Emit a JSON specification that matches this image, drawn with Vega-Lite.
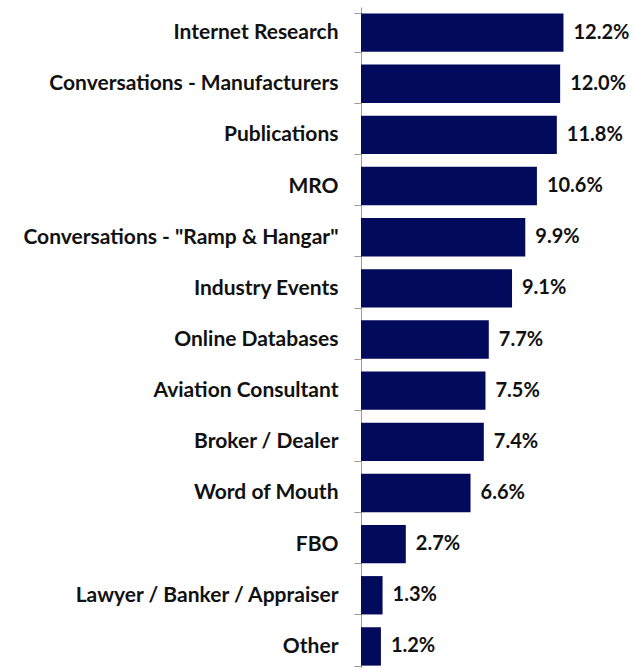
{
  "$schema": "https://vega.github.io/schema/vega-lite/v6.json",
  "width": 273,
  "height": 665,
  "autosize": {"type": "none"},
  "padding": {"left": 361, "top": 7, "right": 0, "bottom": 0},
  "background": "white",
  "config": {"view": {"stroke": null}},
  "data": {
    "values": [
      {"source": "Internet Research", "pct": 0.122},
      {"source": "Conversations - Manufacturers", "pct": 0.120},
      {"source": "Publications", "pct": 0.118},
      {"source": "MRO", "pct": 0.106},
      {"source": "Conversations - \"Ramp & Hangar\"", "pct": 0.099},
      {"source": "Industry Events", "pct": 0.091},
      {"source": "Online Databases", "pct": 0.077},
      {"source": "Aviation Consultant", "pct": 0.075},
      {"source": "Broker / Dealer", "pct": 0.074},
      {"source": "Word of Mouth", "pct": 0.066},
      {"source": "FBO", "pct": 0.027},
      {"source": "Lawyer / Banker / Appraiser", "pct": 0.013},
      {"source": "Other", "pct": 0.012}
    ]
  },
  "encoding": {
    "y": {
      "field": "source",
      "type": "nominal",
      "sort": null,
      "scale": {"paddingInner": 0.25, "paddingOuter": 0.125},
      "axis": {
        "title": null,
        "tickBand": "extent",
        "domainColor": "#999999",
        "tickColor": "#999999",
        "tickSize": 7,
        "labelPadding": 16,
        "labelFont": "Lato",
        "labelFontWeight": "bold",
        "labelFontSize": 21,
        "labelColor": "#111111",
        "labelLimit": 400
      }
    },
    "x": {
      "field": "pct",
      "type": "quantitative",
      "scale": {"domain": [0, 0.1645], "nice": false},
      "axis": null
    }
  },
  "layer": [
    {"mark": {"type": "bar", "color": "#020a5c"}},
    {
      "mark": {"type": "text", "align": "left", "baseline": "middle", "dx": 10, "font": "Lato", "fontWeight": "bold", "fontSize": 20, "color": "#111111"},
      "encoding": {"text": {"field": "pct", "type": "quantitative", "format": ".1%"}}
    }
  ]
}
